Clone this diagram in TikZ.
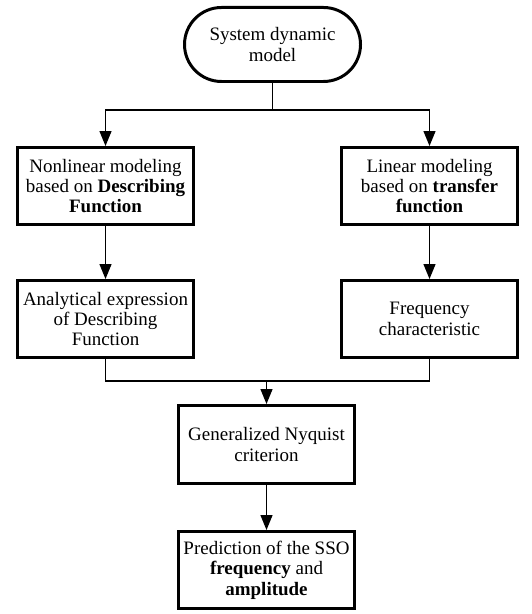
\documentclass[tikz,border=0pt]{standalone}
\usepackage{fontspec}
\setmainfont{Liberation Serif}
\usetikzlibrary{arrows.meta}

\begin{document}
\begin{tikzpicture}[every node/.style={font=\fontsize{10.8}{11.6}\selectfont},
  box/.style={draw,line width=1.7pt,minimum width=3.52cm,minimum height=1.54cm,align=center,inner sep=1pt},
  arr/.style={line width=0.75pt,-{Triangle[length=0.3cm,width=0.24cm]}}]
\useasboundingbox (0,0) rectangle (10.62,-12.28);
% Start node, then the two modeling branches
\node[box,rounded corners=0.74cm,minimum height=1.48cm] (model) at (5.45,-0.89) {System dynamic\\model};
\node[box] (nl) at (2.11,-3.72) {Nonlinear modeling\\based on \textbf{Describing}\\\textbf{Function}};
\node[box] (lin) at (8.59,-3.72) {Linear modeling\\based on \textbf{transfer}\\\textbf{function}};
\node[box] (adf) at (2.11,-6.38) {Analytical expression\\of Describing\\Function};
\node[box] (freq) at (8.59,-6.38) {Frequency\\characteristic};
% Merge and prediction
\node[box,minimum height=1.56cm] (nyq) at (5.33,-8.89) {Generalized Nyquist\\criterion};
\node[box] (pred) at (5.33,-11.4) {Prediction of the SSO\\\textbf{frequency} and\\\textbf{amplitude}};
\coordinate (split) at (5.45,-2.2);
\coordinate (join) at (5.33,-7.62);
\draw[arr] (model.south) -- (split) -| (nl.north);
\draw[arr] (split) -| (lin.north);
\draw[arr] (nl) -- (adf);
\draw[arr] (lin) -- (freq);
\draw[line width=0.75pt] (adf.south) |- (join) -| (freq.south);
\draw[arr] (join) -- (nyq);
\draw[arr] (nyq) -- (pred);
\end{tikzpicture}
\end{document}
